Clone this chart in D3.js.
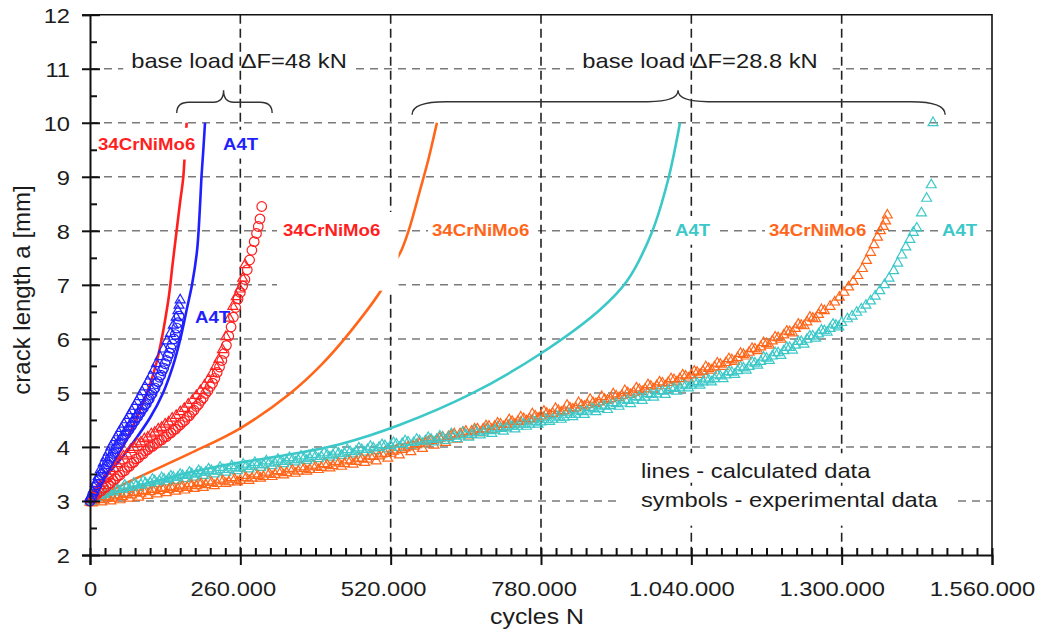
<!DOCTYPE html>
<html>
<head>
<meta charset="utf-8">
<script src="https://cdn.jsdelivr.net/npm/d3@7"></script>
<style>
  body { margin: 0; background: #fff; }
  svg text { font-family: "Liberation Sans", Arial, Helvetica, sans-serif; }
</style>
</head>
<body>
<svg id="chart" width="1041" height="633"></svg>
<script>
// ---- axis ticks (cycles in thousands, crack length in mm) ----
const cycleTicks = [0, 260, 520, 780, 1040, 1300, 1560];
const cycleTickLabels = ["0", "260.000", "520.000", "780.000", "1.040.000", "1.300.000", "1.560.000"];
const crackTicks = [2, 3, 4, 5, 6, 7, 8, 9, 10, 11, 12];
const gridCracks = [3, 4, 5, 6, 7, 8, 9, 10, 11];
const gridCycles = [260, 520, 780, 1040, 1300];

// ---- calculated crack growth (thousand cycles, mm) ----
const calcCr48 = [[0,3.0],[25.9,3.46],[51.9,3.91],[76.1,4.43],[98.1,4.99],[115.9,5.6],[135.5,6.72],[142.7,7.37],[150,8.02],[155.7,8.52],[161.4,9.0],[164.3,9.5],[167.2,10.0]];
const calcA4T48 = [[0,3.0],[25.9,3.43],[51.9,3.76],[77.8,4.13],[103.8,4.54],[126.3,5.0],[143.5,5.5],[157.4,6.05],[167.8,6.57],[176.4,7.0],[185.1,7.63],[189.4,8.29],[192.8,9.0],[196.0,9.5],[198.9,10.0]];
const calcCr288 = [[0,3.0],[74,3.39],[173,3.88],[260.6,4.35],[346,4.99],[400,5.52],[450,6.13],[507,6.96],[522,7.31],[539,7.65],[553,8.07],[571,8.76],[585,9.31],[600,10.0]];
const calcA4T288 = [[0,3.0],[98.6,3.33],[216.2,3.63],[328.6,3.83],[432.4,4.05],[536.1,4.41],[662.4,5.0],[778.3,5.72],[882,6.54],[928.7,7.07],[972,7.98],[999.7,8.94],[1020.4,10.0]];

// ---- experimental crack growth (thousand cycles, mm) ----
const expCr48Circles = [[0,3.00],[4,3.06],[8,3.10],[12,3.12],[16,3.17],[20,3.19],[24,3.24],[28,3.26],[32,3.31],[36,3.33],[40,3.38],[44,3.41],[48,3.46],[52,3.48],[56,3.54],[60,3.56],[64,3.62],[68,3.64],[72,3.70],[76,3.72],[80,3.78],[84,3.80],[88,3.86],[92,3.87],[96,3.93],[100,3.95],[104,4.00],[108,4.01],[112,4.06],[116,4.07],[120,4.12],[124,4.13],[128,4.18],[132,4.19],[136,4.24],[140,4.26],[144,4.31],[148,4.33],[152,4.38],[156,4.41],[160,4.46],[164,4.49],[168,4.55],[172,4.58],[176,4.64],[180,4.68],[184,4.75],[188,4.79],[192,4.86],[196,4.91],[200,4.99],[204,5.04],[208,5.12],[212,5.18],[216,5.27],[220,5.38],[224,5.48],[228,5.60],[232,5.73],[236,5.88],[240,6.05],[244,6.22],[248,6.40],[252,6.58],[256,6.74],[260,6.86],[264,6.98],[268,7.10],[272,7.28],[276,7.46],[280,7.64],[284,7.80],[288,7.95],[291,8.08],[294,8.22],[297,8.45]];
const expCr48Triangles = [[2,3.02],[7,3.13],[12,3.20],[17,3.28],[22,3.33],[27,3.41],[32,3.46],[37,3.55],[42,3.60],[47,3.69],[52,3.74],[58,3.83],[64,3.87],[70,3.95],[76,3.99],[82,4.06],[88,4.09],[94,4.15],[100,4.18],[106,4.24],[112,4.27],[118,4.33],[124,4.36],[130,4.42],[136,4.46],[142,4.53],[149,4.58],[156,4.65],[163,4.71],[170,4.79],[177,4.86],[184,4.95],[191,5.04],[198,5.14],[205,5.25],[211,5.36],[217,5.49],[223,5.62],[229,5.80],[235,6.04],[241,6.38],[247,6.60],[253,6.78],[259,6.92],[264,7.12],[268,7.37]];
const expA4T48Circles = [[0,3.00],[2.5,3.05],[5,3.13],[7.5,3.18],[10,3.26],[12.5,3.30],[15,3.38],[17.5,3.41],[20,3.49],[22.5,3.52],[25,3.59],[27.5,3.62],[30,3.69],[32.5,3.72],[35,3.79],[37.5,3.81],[40,3.88],[42.5,3.90],[45,3.97],[47.5,3.99],[50,4.06],[52.5,4.07],[55,4.14],[57.5,4.16],[60,4.22],[62.5,4.24],[65,4.30],[67.5,4.32],[70,4.38],[72.5,4.40],[75,4.46],[77.5,4.48],[80,4.54],[82.5,4.56],[85,4.62],[87.5,4.64],[90,4.70],[92.5,4.72],[95,4.78],[97.5,4.80],[100,4.87],[102.5,4.89],[105,4.96],[107.5,4.99],[110,5.06],[112.5,5.09],[115,5.17],[117.5,5.21],[120,5.29],[122.5,5.33],[125,5.41],[127.5,5.46],[130,5.54],[132.5,5.60],[135,5.68],[137.5,5.74],[140,5.83],[142.5,5.90],[145,6.00],[147.5,6.08],[150,6.20],[152,6.30],[154,6.42]];
const expA4T48Triangles = [[1,3.05],[5,3.17],[9,3.32],[14,3.45],[18,3.58],[23,3.70],[27,3.80],[32,3.90],[36,4.00],[41,4.09],[45,4.17],[50,4.26],[54,4.34],[59,4.42],[63,4.50],[68,4.58],[72,4.67],[77,4.75],[81,4.84],[86,4.93],[90,5.02],[95,5.11],[100,5.21],[105,5.31],[110,5.42],[115,5.54],[121,5.67],[127,5.81],[133,5.96],[139,6.10],[144,6.25],[149,6.40],[152,6.52],[154,6.62],[156,6.72]];
const expCr288 = [[0,2.97],[8,3.00],[16,3.03],[24,3.02],[32,3.06],[40,3.05],[48,3.09],[56,3.08],[64,3.12],[72,3.11],[80,3.15],[88,3.14],[96,3.18],[104,3.17],[112,3.21],[120,3.19],[128,3.23],[136,3.21],[144,3.25],[152,3.23],[160,3.27],[168,3.25],[176,3.29],[184,3.28],[192,3.32],[200,3.30],[210,3.34],[220,3.32],[230,3.37],[240,3.35],[250,3.40],[260,3.38],[270,3.43],[280,3.42],[290,3.47],[300,3.45],[310,3.50],[320,3.49],[330,3.54],[340,3.52],[350,3.57],[360,3.55],[370,3.60],[380,3.58],[390,3.63],[400,3.62],[410,3.67],[420,3.65],[430,3.70],[440,3.69],[450,3.74],[460,3.73],[470,3.78],[480,3.77],[490,3.82],[500,3.83],[510,3.88],[520,3.88],[530,3.94],[540,3.95],[550,4.00],[560,4.01],[570,4.06],[580,4.07],[590,4.12],[600,4.13],[610,4.18],[620,4.19],[630,4.24],[640,4.24],[650,4.29],[660,4.29],[670,4.33],[680,4.33],[690,4.38],[700,4.38],[710,4.42],[720,4.42],[730,4.47],[740,4.47],[750,4.52],[760,4.52],[770,4.57],[780,4.57],[790,4.62],[800,4.62],[810,4.67],[820,4.67],[830,4.72],[840,4.72],[850,4.77],[860,4.78],[870,4.82],[880,4.83],[890,4.88],[900,4.89],[910,4.94],[920,4.95],[930,5.00],[940,5.01],[950,5.06],[960,5.07],[970,5.12],[980,5.13],[990,5.18],[1000,5.19],[1010,5.24],[1020,5.26],[1030,5.31],[1040,5.33],[1050,5.38],[1060,5.40],[1070,5.45],[1080,5.48],[1090,5.53],[1100,5.56],[1110,5.61],[1120,5.65],[1130,5.71],[1140,5.75],[1150,5.81],[1160,5.85],[1170,5.91],[1180,5.96],[1190,6.02],[1200,6.07],[1210,6.13],[1220,6.19],[1230,6.25],[1240,6.31],[1250,6.38],[1260,6.45],[1270,6.52],[1280,6.60],[1288,6.68],[1296,6.77],[1304,6.86],[1312,6.96],[1320,7.06],[1328,7.17],[1336,7.30],[1343,7.45],[1350,7.60],[1356,7.74],[1362,7.88],[1367,8.00],[1372,8.08],[1376,8.18],[1379,8.29]];
const expCr288b = [[4,2.96],[12,3.06],[20,2.98],[28,3.08],[36,3.00],[44,3.11],[52,3.02],[60,3.14],[68,3.05],[76,3.16],[84,3.07],[92,3.19],[100,3.10],[108,3.21],[116,3.13],[124,3.24],[132,3.15],[140,3.26],[148,3.18],[156,3.29],[164,3.20],[172,3.32],[180,3.23],[188,3.34],[196,3.25],[205,3.37],[215,3.28],[225,3.40],[235,3.32],[245,3.43],[255,3.35],[265,3.47],[275,3.38],[285,3.50],[295,3.42],[305,3.53],[315,3.45],[325,3.56],[335,3.48],[345,3.60],[355,3.51],[365,3.63],[375,3.55],[385,3.66],[395,3.58],[405,3.69],[415,3.61],[425,3.73],[435,3.64],[445,3.76],[455,3.68],[465,3.79],[475,3.71],[485,3.83],[495,3.74],[505,3.87],[515,3.79],[525,3.92],[535,3.85],[545,3.98],[555,3.91],[565,4.04],[575,3.97],[585,4.10],[595,4.03],[605,4.16],[615,4.08],[625,4.21],[635,4.14],[645,4.27],[655,4.20],[665,4.33],[675,4.26],[685,4.39],[695,4.32],[705,4.44],[715,4.37],[725,4.50],[735,4.42],[745,4.55],[755,4.48],[765,4.61],[775,4.53],[785,4.66],[795,4.59],[805,4.71],[815,4.64],[825,4.77],[835,4.70],[845,4.82],[855,4.75],[865,4.88],[875,4.80],[885,4.93],[895,4.86],[905,4.98],[915,4.91],[925,5.04],[935,4.97],[945,5.09],[955,5.02],[965,5.15],[975,5.07],[985,5.20],[995,5.13],[1005,5.26],[1015,5.20],[1025,5.33],[1035,5.27],[1045,5.40],[1055,5.34],[1065,5.48],[1075,5.42],[1085,5.55],[1095,5.49],[1105,5.63],[1115,5.58],[1125,5.73],[1135,5.68],[1145,5.82],[1155,5.78],[1165,5.93],[1175,5.88],[1185,6.03],[1195,5.99],[1205,6.14],[1215,6.11],[1225,6.27],[1235,6.24],[1245,6.40],[1255,6.37],[1265,6.54]];
const expA4T288 = [[0,3.00],[8,3.06],[16,3.10],[24,3.13],[32,3.16],[40,3.18],[48,3.21],[56,3.22],[64,3.25],[72,3.26],[80,3.29],[88,3.30],[96,3.33],[104,3.34],[112,3.37],[120,3.37],[128,3.40],[136,3.41],[144,3.44],[152,3.44],[160,3.47],[168,3.47],[176,3.50],[184,3.50],[192,3.53],[200,3.53],[210,3.56],[220,3.55],[230,3.58],[240,3.58],[250,3.61],[260,3.61],[270,3.64],[280,3.64],[290,3.67],[300,3.67],[310,3.70],[320,3.70],[330,3.73],[340,3.73],[350,3.76],[360,3.76],[370,3.79],[380,3.79],[390,3.82],[400,3.82],[410,3.85],[420,3.85],[430,3.88],[440,3.88],[450,3.91],[460,3.92],[470,3.95],[480,3.95],[490,3.98],[500,3.99],[510,4.02],[520,4.02],[530,4.05],[540,4.06],[550,4.09],[560,4.08],[570,4.11],[580,4.11],[590,4.14],[600,4.14],[610,4.17],[620,4.17],[630,4.20],[640,4.20],[650,4.23],[660,4.23],[670,4.26],[680,4.27],[690,4.30],[700,4.31],[710,4.34],[720,4.35],[730,4.38],[740,4.38],[750,4.42],[760,4.42],[770,4.46],[780,4.46],[790,4.50],[800,4.51],[810,4.55],[820,4.55],[830,4.60],[840,4.60],[850,4.65],[860,4.66],[870,4.70],[880,4.71],[890,4.75],[900,4.76],[910,4.80],[920,4.81],[930,4.86],[940,4.87],[950,4.92],[960,4.92],[970,4.97],[980,4.98],[990,5.03],[1000,5.04],[1010,5.08],[1020,5.09],[1030,5.13],[1040,5.14],[1050,5.18],[1060,5.20],[1070,5.24],[1080,5.26],[1090,5.31],[1100,5.33],[1110,5.38],[1120,5.41],[1130,5.46],[1140,5.49],[1150,5.55],[1160,5.58],[1170,5.64],[1180,5.68],[1190,5.74],[1200,5.78],[1210,5.84],[1220,5.88],[1230,5.95],[1240,5.99],[1250,6.05],[1260,6.09],[1270,6.15],[1280,6.19],[1290,6.25],[1300,6.30],[1310,6.37],[1318,6.42],[1326,6.49],[1334,6.55],[1342,6.62],[1350,6.70],[1358,6.79],[1366,6.89],[1374,7.00],[1382,7.12],[1390,7.26],[1397,7.40],[1404,7.55],[1411,7.70],[1418,7.84],[1424,7.97],[1430,8.05],[1438,8.33],[1447,8.60],[1455,8.85],[1458,10.00]];
const expA4T288b = [[4,2.99],[12,3.12],[20,3.06],[28,3.19],[36,3.12],[44,3.24],[52,3.16],[60,3.29],[68,3.21],[76,3.33],[84,3.25],[92,3.37],[100,3.29],[108,3.40],[116,3.32],[124,3.43],[132,3.35],[140,3.46],[148,3.38],[156,3.49],[164,3.41],[172,3.53],[180,3.44],[188,3.56],[196,3.47],[205,3.59],[215,3.50],[225,3.62],[235,3.53],[245,3.65],[255,3.56],[265,3.68],[275,3.59],[285,3.71],[295,3.62],[305,3.74],[315,3.65],[325,3.77],[335,3.69],[345,3.80],[355,3.72],[365,3.83],[375,3.75],[385,3.86],[395,3.78],[405,3.89],[415,3.81],[425,3.92],[435,3.84],[445,3.95],[455,3.87],[465,3.98],[475,3.90],[485,4.01],[495,3.93],[505,4.04],[515,3.96],[525,4.08],[535,3.99],[545,4.11],[555,4.02],[565,4.14],[575,4.06],[585,4.17],[595,4.09],[605,4.20],[615,4.12],[625,4.24],[635,4.15],[645,4.27],[655,4.18],[665,4.30],[675,4.22],[685,4.33],[695,4.25],[705,4.37],[715,4.29],[725,4.41],[735,4.33],[745,4.46],[755,4.38],[765,4.50],[775,4.42],[785,4.55],[795,4.47],[805,4.59],[815,4.51],[825,4.64],[835,4.56],[845,4.68],[855,4.60],[865,4.73],[875,4.65],[885,4.77],[895,4.69],[905,4.82],[915,4.75],[925,4.88],[935,4.80],[945,4.93],[955,4.86],[965,4.99],[975,4.92],[985,5.04],[995,4.97],[1005,5.10],[1015,5.03],[1025,5.16],[1035,5.09],[1045,5.21],[1055,5.14],[1065,5.27],[1075,5.20],[1085,5.33],[1095,5.26],[1105,5.39],[1115,5.34],[1125,5.48],[1135,5.42],[1145,5.57],[1155,5.51],[1165,5.66],[1175,5.60],[1185,5.74],[1195,5.69],[1205,5.84],[1215,5.79],[1225,5.95],[1235,5.90],[1245,6.05],[1255,6.01],[1265,6.16],[1275,6.12],[1285,6.27],[1295,6.22]];

const colors = { red: "#ff1f1f", blue: "#1f1fff", orange: "#ff661a", cyan: "#3cc8c8" };

// ---- scales ----
const svg = d3.select("#chart");
const x = d3.scaleLinear().domain([0, 1560]).range([90, 992]);
const y = d3.scaleLinear().domain([2, 12]).range([555, 14.7]);
const SX = 1.13; // horizontal text stretch
const textColor = "#1c1c1c";

const gH = svg.append("g");
const gTopBox = svg.append("g");
const gV = svg.append("g");
const gLines = svg.append("g");
const gBox = svg.append("g");
const gMarks = svg.append("g");
const gAxes = svg.append("g");
const gDeco = svg.append("g");
const gText = svg.append("g");

// horizontal grid
gH.selectAll("line").data(gridCracks).join("line")
  .attr("x1", x(0)).attr("x2", x(1560))
  .attr("y1", d => y(d)).attr("y2", d => y(d))
  .attr("stroke", "#7a7a7a").attr("stroke-width", 1.5)
  .attr("stroke-dasharray", "8,6");

// vertical grid
gV.selectAll("line").data(gridCycles).join("line")
  .attr("x1", d => x(d)).attr("x2", d => x(d))
  .attr("y1", y(12)).attr("y2", y(2))
  .attr("stroke", "#222").attr("stroke-width", 1.6)
  .attr("stroke-dasharray", "9,5");

// calculated curves
const line = d3.line().x(d => x(d[0])).y(d => y(d[1])).curve(d3.curveCatmullRom.alpha(0.5));
[[calcCr48, colors.red], [calcA4T48, colors.blue], [calcCr288, colors.orange], [calcA4T288, colors.cyan]]
  .forEach(([data, c]) => {
    gLines.append("path").datum(data).attr("d", line)
      .attr("fill", "none").attr("stroke", c).attr("stroke-width", 2.6);
  });

// experimental symbols
const tri = d3.symbol().type(d3.symbolTriangle).size(42);
function circles(data, c) {
  gMarks.append("g").selectAll("circle").data(data).join("circle")
    .attr("cx", d => x(d[0])).attr("cy", d => y(d[1])).attr("r", 4.8)
    .attr("fill", "none").attr("stroke", c).attr("stroke-width", 1.2);
}
function triangles(data, c) {
  gMarks.append("g").selectAll("path").data(data).join("path")
    .attr("d", tri)
    .attr("transform", d => `translate(${x(d[0])},${y(d[1])})`)
    .attr("fill", "none").attr("stroke", c).attr("stroke-width", 1.2);
}
triangles(expCr288b, colors.orange);
triangles(expA4T288b, colors.cyan);
triangles(expCr288, colors.orange);
triangles(expA4T288, colors.cyan);
triangles(expCr48Triangles, colors.red);
circles(expCr48Circles, colors.red);
circles(expA4T48Circles, colors.blue);
triangles(expA4T48Triangles, colors.blue);

// ---- axes ----
const xAxis = d3.axisBottom(x).tickValues(cycleTicks)
  .tickFormat((d, i) => cycleTickLabels[i]).tickSize(10).tickPadding(16);
const gx = gAxes.append("g").attr("transform", `translate(0,${y(2)})`).call(xAxis);
gx.selectAll(".tick line").attr("y1", -7);
gx.selectAll(".tick text").attr("font-size", 21).attr("fill", textColor)
  .attr("font-family", null)
  .attr("x", (d, i) => -(cycleTickLabels[i].length - 1) * 1.25 / SX)
  .attr("transform", `scale(${SX},1)`);

const xMinor = d3.axisBottom(x).tickValues(d3.range(0, 1561, 26).filter(v => v % 260 !== 0))
  .tickSize(-7).tickFormat("");
gAxes.append("g").attr("transform", `translate(0,${y(2)})`).call(xMinor)
  .call(g => g.select(".domain").remove());

const yAxis = d3.axisLeft(y).tickValues(crackTicks).tickSize(8).tickPadding(12);
const gy = gAxes.append("g").attr("transform", `translate(${x(0)},0)`).call(yAxis);
gy.selectAll(".tick line").attr("x1", 10);
gy.selectAll(".tick text").attr("font-size", 21).attr("fill", textColor)
  .attr("font-family", null).attr("x", -20 / SX).attr("dy", "0.36em")
  .attr("transform", `scale(${SX},1)`);

const yMinor = d3.axisLeft(y).tickValues(d3.range(2.5, 12, 1)).tickSize(-7).tickFormat("");
gAxes.append("g").attr("transform", `translate(${x(0)},0)`).call(yMinor)
  .call(g => g.select(".domain").remove());

gAxes.selectAll(".domain").attr("stroke-width", 2).attr("stroke", "#111");
gAxes.selectAll(".tick line").attr("stroke-width", 2).attr("stroke", "#111");

// frame top and right
gAxes.append("path")
  .attr("d", `M${x(0)},${y(12)}H${x(1560)}V${y(2)}`)
  .attr("fill", "none").attr("stroke", "#111").attr("stroke-width", 1.6);

// axis titles
gText.append("text")
  .attr("transform", `translate(${(x(0) + x(1560)) / 2 - 4},624) scale(${SX},1)`)
  .attr("text-anchor", "middle").attr("font-size", 22).attr("fill", textColor)
  .text("cycles N");
gText.append("text")
  .attr("transform", `translate(30,290) rotate(-90)`)
  .attr("text-anchor", "middle").attr("font-size", 24).attr("fill", textColor)
  .text("crack length a [mm]");

// ---- text with white backing ----
function boxedText(layer, px, py, str, opts) {
  const t = gText.append("text")
    .attr("transform", `translate(${px},${py}) scale(${SX},1)`)
    .attr("text-anchor", opts.anchor || "start")
    .attr("font-size", opts.size).attr("font-weight", opts.weight || "normal")
    .attr("fill", opts.color).text(str);
  const b = t.node().getBBox();
  const pl = opts.padL ?? 4, pr = opts.padR ?? 4, pt = opts.padT ?? 5, pb = opts.padB ?? 5;
  layer.append("rect")
    .attr("x", px + b.x * SX - pl).attr("y", py + b.y - pt)
    .attr("width", b.width * SX + pl + pr).attr("height", b.height + pt + pb)
    .attr("fill", "#fff");
  return t;
}

// load case headings
boxedText(gTopBox, 239, 68, "base load \u0394F=48 kN", { size: 21, color: textColor, anchor: "middle", padL: 8, padR: 8, padT: 3, padB: 3 });
boxedText(gTopBox, 700, 68, "base load \u0394F=28.8 kN", { size: 21, color: textColor, anchor: "middle", padL: 8, padR: 15, padT: 3, padB: 3 });

// series labels
const lab = { size: 16.5, weight: "bold" };
boxedText(gBox, x(13.8), y(9.5), "34CrNiMo6", { ...lab, color: colors.red, padT: 7, padB: 6 });
boxedText(gBox, x(230), y(9.5), "A4T", { ...lab, color: colors.blue });
boxedText(gBox, x(181.6), y(6.29), "A4T", { ...lab, color: colors.blue, padR: 2 });
boxedText(gBox, x(333.8), y(7.905), "34CrNiMo6", { ...lab, color: colors.red, padL: 6, padR: 18, padT: 9, padB: 51 });
boxedText(gBox, x(591.5), y(7.905), "34CrNiMo6", { ...lab, color: colors.orange });
boxedText(gBox, x(1011.7), y(7.905), "A4T", { ...lab, color: colors.cyan });
boxedText(gBox, x(1174.3), y(7.905), "34CrNiMo6", { ...lab, color: colors.orange, padR: 2 });
boxedText(gBox, x(1473.5), y(7.905), "A4T", { ...lab, color: colors.cyan });

// note on line vs symbol meaning
boxedText(gBox, 641, 478, "lines - calculated data", { size: 21, color: textColor, padL: 24, padR: 0, padT: 6, padB: 0 });
boxedText(gBox, 641, 507, "symbols - experimental data", { size: 21, color: textColor, padL: 24, padR: 15, padT: 0, padB: 14 });

// braces grouping the load cases
function brace(n0, n1, nTip, aEnd, aFlat, aTip, rEnd, rTip) {
  const x0 = x(n0), x1 = x(n1), xt = x(nTip);
  const ye = y(aEnd), yf = y(aFlat), yt = y(aTip);
  return `M${x0},${ye}Q${x0},${yf} ${x0 + rEnd},${yf}L${xt - rTip},${yf}` +
    `Q${xt},${yf} ${xt},${yt}Q${xt},${yf} ${xt + rTip},${yf}` +
    `L${x1 - rEnd},${yf}Q${x1},${yf} ${x1},${ye}`;
}
gDeco.append("path").attr("d", brace(150, 315, 231, 10.18, 10.38, 10.6, 12, 10))
  .attr("fill", "none").attr("stroke", "#333").attr("stroke-width", 1.4);
gDeco.append("path").attr("d", brace(557, 1479, 1017, 10.15, 10.39, 10.6, 34, 30))
  .attr("fill", "none").attr("stroke", "#333").attr("stroke-width", 1.4);
</script>
</body>
</html>
